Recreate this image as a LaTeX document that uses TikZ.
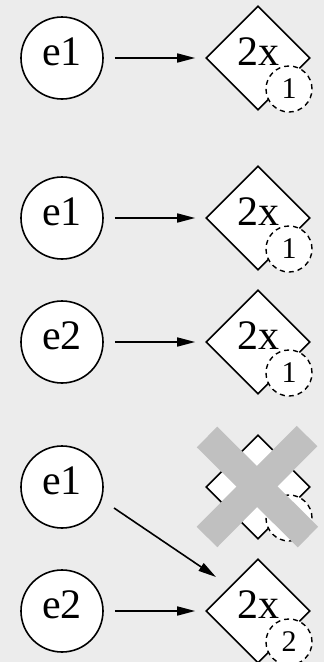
\documentclass[tikz,border=0pt]{standalone}
\usepackage{fontspec}
\setmainfont{Liberation Serif}
\usetikzlibrary{shapes.geometric,arrows.meta}
\definecolor{bg}{HTML}{ECECEC}
\definecolor{crossgray}{HTML}{C0C0C0}
\begin{document}
\begin{tikzpicture}[x=1pt,y=-1pt,
  evt/.style={circle,draw,fill=white,line width=1.6pt,minimum size=82pt,inner sep=0pt,
    font=\fontsize{42}{42}\selectfont,text depth=12pt},
  dup/.style={diamond,draw,fill=white,line width=1.6pt,minimum width=104pt,minimum height=104pt,
    inner sep=0pt,font=\fontsize{42}{42}\selectfont,text depth=12pt},
  cnt/.style={circle,draw,dash pattern=on 5pt off 4pt,fill=white,line width=1.4pt,
    minimum size=46pt,inner sep=0pt,font=\fontsize{30}{30}\selectfont},
  link/.style={-{Triangle[length=18pt,width=9pt]},line width=1.6pt,shorten <=11pt,shorten >=10pt},
  strike/.style={draw=crossgray,line width=29pt}
]
\fill[bg] (0,0) rectangle (324,662);
\useasboundingbox (0,0) rectangle (324,662);

% first case: one event, one duplicator
\node[evt] (a1) at (62,58) {e1};
\node[dup] (ad) at (258,58) {2x};
\node[cnt] (ac) at ([shift={(31,31)}]ad.center) {1};
\draw[link] (a1.east) -- (ad.west);

% second case: two events, two duplicators
\node[evt] (b1) at (62,218) {e1};
\node[dup] (bd1) at (258,218) {2x};
\node[cnt] (bc1) at ([shift={(31,31)}]bd1.center) {1};
\draw[link] (b1.east) -- (bd1.west);

\node[evt] (b2) at (62,342) {e2};
\node[dup] (bd2) at (258,342) {2x};
\node[cnt] (bc2) at ([shift={(31,31)}]bd2.center) {1};
\draw[link] (b2.east) -- (bd2.west);

% third case: shared duplicator, the unused one struck out
\node[evt] (c1) at (62,487) {e1};
\node[dup] (cx) at (258,487) {};
\node[cnt] (cxc) at ([shift={(31,31)}]cx.center) {};
\draw[strike] ([shift={(-51,-50)}]cx.center) -- ([shift={(50,50)}]cx.center);
\draw[strike] ([shift={(49,-51)}]cx.center) -- ([shift={(-51,50)}]cx.center);

\node[evt] (c2) at (62,611) {e2};
\node[dup] (cd) at (258,611) {2x};
\node[cnt] (cc) at ([shift={(31,31)}]cd.center) {2};
\draw[link] (c2.east) -- (cd.west);
\draw[link,shorten <=0pt,shorten >=0pt] ([shift={(52,21)}]c1.center) -- ([shift={(-42,-34)}]cd.center);
\end{tikzpicture}
\end{document}
